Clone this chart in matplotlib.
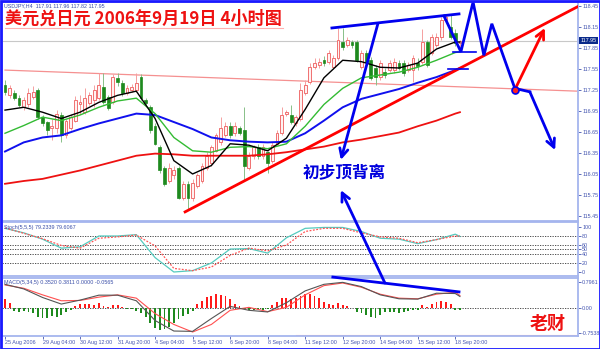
import matplotlib.pyplot as plt
from matplotlib.patches import Rectangle, ConnectionPatch
from matplotlib.transforms import blended_transform_factory

plt.rcParams['font.family'] = ['Liberation Sans', 'DejaVu Sans']
CJK = ['Noto Sans CJK SC', 'DejaVu Sans']

# ---------------- data (USDJPY H4) ----------------
opens = [117.32, 117.17, 117.20, 117.13, 117.01, 117.04, 117.14, 117.24, 116.86, 116.79,
         116.70, 116.70, 116.89, 116.60, 116.71, 116.81, 117.04, 116.93, 117.06, 117.10,
         117.13, 117.29, 117.14, 117.07, 117.42, 117.35, 117.20, 117.24, 117.24, 117.43,
         117.10, 117.00, 116.74, 116.43, 116.13, 115.95, 116.03, 116.13, 115.71, 115.91,
         115.71, 115.88, 115.95, 116.14, 116.21, 116.38, 116.50, 116.60, 116.74, 116.63,
         116.71, 116.67, 116.14, 116.31, 116.43, 116.31, 116.36, 116.24, 116.48, 116.63,
         116.90, 116.89, 116.77, 116.84, 117.20, 117.36, 117.57, 117.60, 117.67, 117.65,
         117.57, 117.70, 117.93, 117.89, 117.93, 117.93, 117.57, 117.78, 117.67, 117.56,
         117.43, 117.50, 117.53, 117.53, 117.63, 117.63, 117.53, 117.53, 117.63, 117.65,
         117.93, 117.78, 117.89, 118.00, 118.25, 118.15, 118.06, 117.91]
closes = [117.22, 117.27, 117.13, 117.03, 117.10, 117.20, 117.22, 116.86, 116.77, 116.67,
          116.73, 116.91, 116.60, 116.81, 116.86, 117.10, 117.07, 117.13, 117.17, 117.24,
          117.32, 117.07, 116.99, 117.43, 117.36, 117.20, 117.27, 117.29, 117.35, 117.13,
          117.06, 116.67, 116.48, 116.10, 115.91, 116.14, 116.10, 115.71, 115.91, 115.71,
          115.92, 116.03, 116.17, 116.31, 116.43, 116.60, 116.70, 116.74, 116.60, 116.74,
          116.64, 116.17, 116.31, 116.43, 116.31, 116.43, 116.21, 116.46, 116.64, 116.89,
          116.93, 116.79, 116.86, 117.24, 117.32, 117.57, 117.63, 117.65, 117.63, 117.78,
          117.70, 117.96, 117.86, 117.96, 117.89, 117.67, 117.78, 117.65, 117.42, 117.43,
          117.63, 117.46, 117.63, 117.65, 117.56, 117.49, 117.60, 117.70, 117.59, 117.93,
          117.60, 118.00, 118.00, 118.25, 118.29, 118.00, 117.92, 117.95]
highs = [117.39, 117.32, 117.24, 117.17, 117.14, 117.27, 117.30, 117.27, 116.89, 116.81,
         116.84, 116.96, 116.93, 116.84, 116.90, 117.16, 117.17, 117.27, 117.22, 117.32,
         117.49, 117.49, 117.17, 117.47, 117.49, 117.39, 117.32, 117.33, 117.49, 117.47,
         117.13, 117.03, 116.77, 116.46, 116.17, 116.21, 116.17, 116.17, 115.95, 115.95,
         115.98, 116.07, 116.21, 116.36, 116.46, 116.64, 116.86, 116.79, 116.79, 116.79,
         116.74, 117.00, 116.36, 116.46, 116.48, 116.48, 116.38, 116.50, 116.67, 117.00,
         116.96, 117.03, 116.89, 117.35, 117.39, 117.63, 117.70, 117.70, 117.73, 117.82,
         117.75, 118.13, 118.13, 118.00, 117.96, 117.96, 117.82, 117.82, 117.72, 117.60,
         117.67, 117.56, 117.67, 117.70, 117.67, 117.67, 117.65, 117.75, 117.70, 118.11,
         117.96, 118.05, 118.06, 118.28, 118.32, 118.31, 118.11, 117.96]
lows = [117.17, 117.13, 117.10, 117.00, 116.96, 117.01, 117.12, 116.84, 116.74, 116.60,
        116.53, 116.64, 116.50, 116.56, 116.67, 116.79, 116.91, 116.90, 117.03, 117.01,
        117.10, 117.04, 116.96, 117.04, 117.30, 117.16, 117.17, 117.22, 117.22, 117.10,
        117.03, 116.64, 116.46, 116.07, 115.88, 115.92, 115.98, 115.70, 115.68, 115.55,
        115.67, 115.85, 115.92, 116.10, 116.17, 116.36, 116.46, 116.57, 116.56, 116.59,
        116.60, 115.95, 116.10, 116.27, 116.27, 116.27, 116.07, 116.20, 116.46, 116.60,
        116.87, 116.76, 116.74, 116.81, 117.17, 117.33, 117.55, 117.56, 117.59, 117.62,
        117.55, 117.67, 117.82, 117.86, 117.85, 117.65, 117.55, 117.60, 117.39, 117.32,
        117.39, 117.42, 117.50, 117.49, 117.53, 117.45, 117.50, 117.36, 117.53, 117.62,
        117.57, 117.75, 117.86, 117.96, 118.22, 117.98, 117.88, 117.82]

# indicator lines read every 4 bars
line_bars = [0, 4, 8, 12, 16, 20, 24, 28, 32, 36, 40, 44, 48, 52, 56, 60, 64, 68, 72, 76, 80, 84, 88, 92, 96, 97]
ma_black = [116.96, 117.00, 116.93, 116.84, 116.93, 117.07, 117.17, 117.23, 116.84, 116.24, 116.05, 116.17, 116.48,
            116.46, 116.38, 116.56, 116.97, 117.42, 117.67, 117.65, 117.57, 117.56, 117.63, 117.83, 117.93, 117.93]
ma_green = [116.63, 116.74, 116.86, 116.81, 116.89, 117.00, 117.09, 117.13, 116.91, 116.57, 116.38, 116.36, 116.43,
            116.44, 116.41, 116.48, 116.73, 117.04, 117.27, 117.42, 117.46, 117.50, 117.57, 117.67, 117.78, 117.79]
ma_blue = [116.37, 116.50, 116.57, 116.60, 116.69, 116.77, 116.84, 116.91, 116.89, 116.79, 116.69, 116.57, 116.53,
           116.51, 116.50, 116.51, 116.63, 116.81, 117.00, 117.12, 117.19, 117.26, 117.35, 117.43, 117.53, 117.56]
ma_red = [115.91, 115.95, 115.98, 116.04, 116.10, 116.17, 116.24, 116.31, 116.34, 116.33, 116.31, 116.31, 116.31,
          116.31, 116.33, 116.36, 116.40, 116.44, 116.50, 116.54, 116.59, 116.64, 116.73, 116.81, 116.91, 116.93]

stoch_main = [97, 87, 73, 53, 56, 80, 80, 83, 32, 0, 3, 20, 51, 52, 42, 76, 97, 99, 99, 90, 75, 73, 63, 72, 84, 79]
stoch_signal = [98, 86, 74, 59, 53, 75, 78, 82, 58, 8, 3, 11, 37, 53, 47, 60, 90, 97, 97, 87, 78, 75, 65, 72, 80, 80]
stoch_levels = [80, 60, 50, 40, 20]

macd_main = [0.72, 0.58, 0.32, 0.12, 0.24, 0.39, 0.39, 0.22, -0.38, -0.70, -0.71, -0.32, 0.05,
             -0.07, -0.12, 0.16, 0.52, 0.72, 0.78, 0.65, 0.40, 0.28, 0.27, 0.45, 0.44, 0.35]
macd_signal = [0.70, 0.60, 0.40, 0.22, 0.23, 0.33, 0.40, 0.30, -0.17, -0.50, -0.73, -0.50, -0.07,
               0.02, -0.11, 0.02, 0.40, 0.68, 0.76, 0.63, 0.42, 0.30, 0.28, 0.42, 0.48, 0.38]
macd_hist = [0.27, 0.15, -0.08, -0.12, -0.10, -0.12, -0.15, -0.27, -0.30, -0.30,
             -0.24, -0.27, -0.20, -0.12, -0.05, 0.06, 0.12, 0.12, 0.12, 0.10,
             0.15, 0.05, 0.02, 0.09, 0.09, 0.02, -0.03, -0.02, -0.10, -0.15,
             -0.27, -0.45, -0.62, -0.68, -0.65, -0.58, -0.45, -0.33, -0.25, -0.18,
             -0.08, 0.12, 0.22, 0.32, 0.38, 0.43, 0.41, 0.36, 0.28, 0.12,
             0.05, -0.03, -0.05, -0.05, -0.04, -0.06, -0.03, 0.08, 0.18, 0.30,
             0.30, 0.27, 0.31, 0.38, 0.42, 0.42, 0.38, 0.30, 0.18, 0.12,
             0.09, 0.15, 0.09, 0.06, 0.01, -0.12, -0.15, -0.20, -0.27, -0.30,
             -0.20, -0.12, -0.12, -0.12, -0.15, -0.12, -0.10, -0.06, -0.05, 0.09,
             0.03, 0.12, 0.18, 0.21, 0.18, 0.12, -0.06, -0.06]

price_ticks = [118.45, 118.15, 117.85, 117.55, 117.25, 116.95, 116.65, 116.35, 116.05, 115.75, 115.45]
date_bars = [0, 8, 16, 24, 32, 40, 48, 56, 64, 72, 80, 88, 96]
date_labels = ['25 Aug 2006', '29 Aug 04:00', '30 Aug 12:00', '31 Aug 20:00', '4 Sep 04:00', '5 Sep 12:00',
               '6 Sep 20:00', '8 Sep 04:00', '11 Sep 12:00', '12 Sep 20:00', '14 Sep 04:00', '15 Sep 12:00',
               '18 Sep 20:00']
last_price = 117.95

# hand-drawn annotations (bar index, price)
pink_line = ([0, 122], [117.53, 117.23])
red_trend = ([38.4, 122.0], [115.51, 118.43])
top_line = ([69.7, 96.8], [118.13, 118.33])
zig_x = [93.6, 97.2, 99.8, 102.1, 103.8, 108.7, 111.9]
zig_y = [118.30, 117.79, 118.50, 117.74, 118.19, 117.27, 117.22]

# ---------------- layout ----------------
W, H = 600, 349
fig = plt.figure(figsize=(6, 3.49), dpi=100)
fig.patch.set_facecolor('white')
AXC = '#a5b5ee'
TXC = '#4455b0'
SMALL = 3.9


def panel(top, bottom, left=2, right=578):
    a = fig.add_axes([left / W, 1 - bottom / H, (right - left) / W, (bottom - top) / H])
    a.set_xlim(-0.64, 122.17)
    for s in a.spines.values():
        s.set_color(AXC)
        s.set_linewidth(1.3)
    a.yaxis.tick_right()
    a.tick_params(axis='y', length=2, width=0.6, colors=TXC, labelsize=SMALL, pad=1)
    a.set_xticks([])
    return a


ax = panel(2, 221)
ax.set_ylim(115.38, 118.50)
ax.set_yticks(price_ticks)
ax.set_yticklabels(['%.2f' % t for t in price_ticks])

ax_st = panel(222, 276)
ax_st.set_ylim(-8.9, 111.1)
ax_st.set_yticks([100, 80, 60, 50, 40, 20, 0])

ax_m = panel(278, 336)
ax_m.set_ylim(-0.851, 0.912)
ax_m.set_yticks([0.7961, 0.0, -0.7538])
ax_m.set_yticklabels(['0.7961', '0.00', '-0.7538'])
ax_m.set_xticks(date_bars)
ax_m.set_xticklabels(date_labels, ha='left')
ax_m.tick_params(axis='x', length=2, width=0.6, colors=TXC, labelsize=SMALL, pad=1)

# ---------------- main panel ----------------
ax.axhline(last_price, color='#c8c8c8', lw=0.8, zorder=1)
ax.plot(*pink_line, color='#f59090', lw=0.9, zorder=2)

for i in range(len(closes)):
    o, h, l, c = opens[i], highs[i], lows[i], closes[i]
    if c >= o:
        ax.vlines(i, l, h, color='#f5a0a0', lw=0.7, zorder=2)
        ax.add_patch(Rectangle((i - 0.3, o), 0.6, max(c - o, 0.005), facecolor='#fff2f2',
                               edgecolor='#f07070', lw=0.7, zorder=3))
    else:
        ax.vlines(i, l, h, color='#88c088', lw=0.7, zorder=2)
        ax.add_patch(Rectangle((i - 0.3, c), 0.6, o - c, facecolor='#1e8a1e',
                               edgecolor='#1e8a1e', lw=0.5, zorder=3))

ax.plot(line_bars, ma_red, color='#ee1111', lw=1.3, zorder=4)
ax.plot(line_bars, ma_blue, color='#1010ee', lw=1.4, zorder=4)
ax.plot(line_bars, ma_green, color='#33bb33', lw=1.0, zorder=4)
ax.plot(line_bars, ma_black, color='black', lw=1.0, zorder=5)

# annotations
ax.plot(*red_trend, color='#ff0000', lw=2.0, zorder=6)
ax.plot(*top_line, color='#0000ee', lw=2.0, zorder=6)
ax.plot(zig_x, zig_y, color='#0000ee', lw=2.0, zorder=6, solid_joinstyle='miter')
ax.annotate('', xy=(117.3, 116.39), xytext=(zig_x[-1], zig_y[-1]),
            arrowprops=dict(arrowstyle='->,head_length=0.6,head_width=0.3', color='#0000ee', lw=2.0,
                            shrinkA=0, shrinkB=0), zorder=6)
ax.plot([95.5, 100.4], [117.79, 117.79], color='#0000ee', lw=1.2, zorder=6)
ax.plot([94.5, 98.7], [117.55, 117.55], color='#0000ee', lw=1.2, zorder=6)
ax.annotate('', xy=(71.6, 116.25), xytext=(79.5, 118.19),
            arrowprops=dict(arrowstyle='->,head_length=0.6,head_width=0.3', color='#0000ee', lw=2.0,
                            shrinkA=0, shrinkB=0), zorder=6)
ax.annotate('', xy=(115.1, 118.13), xytext=(108.7, 117.25),
            arrowprops=dict(arrowstyle='->,head_length=0.6,head_width=0.3', color='#ff0000', lw=2.0,
                            shrinkA=0, shrinkB=0), zorder=6)
ax.plot([108.7], [117.25], 'o', ms=5, mfc='#ff2020', mec='#0000ee', mew=1.2, zorder=7)

ax.text(72.3, 116.06, '初步顶背离', family=CJK, fontsize=12, fontweight='bold', color='#0000dd',
        ha='center', va='center', zorder=7)

ax.text(0.004, 0.995, 'USDJPY,H4  117.91 117.96 117.82 117.95', transform=ax.transAxes,
        fontsize=SMALL, color='#3a4ea8', va='top')
fig.text(5 / W, 1 - 19 / H, '美元兑日元 2006年9月19日 4小时图', family=CJK, fontsize=12.3,
         fontweight='bold', color='#ee1111', va='center', ha='left')
fig.add_artist(plt.Line2D([5 / W, 283 / W], [1 - 27.5 / H, 1 - 27.5 / H], color='#ffb0b0', lw=0.8))

bt = blended_transform_factory(ax.transAxes, ax.transData)
ax.text(1.004, last_price, '%.2f' % last_price, transform=bt, fontsize=SMALL, color='white', va='center',
        ha='left', bbox=dict(boxstyle='square,pad=0.2', facecolor='#0a2a8a', edgecolor='none'), zorder=8)

# ---------------- stochastic ----------------
for lv in stoch_levels:
    ax_st.axhline(lv, color='#333333', lw=0.6, ls=(0, (1.5, 1.5)))
ax_st.plot(line_bars, stoch_main, color='#55cbbf', lw=0.9)
ax_st.plot(line_bars, stoch_signal, color='#ff5555', lw=0.9, ls=(0, (1.5, 1.2)))
ax_st.text(0.004, 0.95, 'Stoch(5,5,5) 79.2339 79.6067', transform=ax_st.transAxes,
           fontsize=SMALL, color='#3a4ea8', va='top')

# ---------------- MACD ----------------
ax_m.axhline(0, color='#333333', lw=0.6, ls=(0, (1.5, 1.5)))
ax_m.bar(range(len(macd_hist)), macd_hist, width=0.4,
         color=['#ff1a1a' if v >= 0 else '#1e8a1e' for v in macd_hist], zorder=2)
ax_m.plot(line_bars, macd_signal, color='#ff5050', lw=0.8, zorder=3)
ax_m.plot(line_bars, macd_main, color='#555555', lw=0.8, zorder=3)
ax_m.text(0.004, 0.97, 'MACD(5,34,5) 0.3520 0.3811 0.0000 -0.0565', transform=ax_m.transAxes,
          fontsize=SMALL, color='#3a4ea8', va='top')
ax_m.plot([69.9, 96.8], [0.94, 0.49], color='#0000ee', lw=2.0, clip_on=False, zorder=6)
ax_m.text(115.8, -0.46, '老财', family=CJK, fontsize=13, fontweight='bold', color='#ee1111',
          ha='center', va='center')
ax_m.plot([62.0, 122.0], [-0.82, -0.82], color='#ffb8b8', lw=0.8)

# divergence arrow from MACD up into the price panel
con = ConnectionPatch(xyA=(81.0, 0.76), coordsA=ax_m.transData, xyB=(71.6, 115.82), coordsB=ax.transData,
                      arrowstyle='->,head_length=0.6,head_width=0.3', color='#0000ee', lw=2.0,
                      shrinkA=0, shrinkB=0, zorder=10)
fig.add_artist(con)

fig.add_artist(Rectangle((0.5 / W, 0.5 / H), 1 - 1 / W, 1 - 1 / H, transform=fig.transFigure,
                         fill=False, edgecolor='#1a1aff', lw=2.0))

fig.savefig('out.png', dpi=100)
